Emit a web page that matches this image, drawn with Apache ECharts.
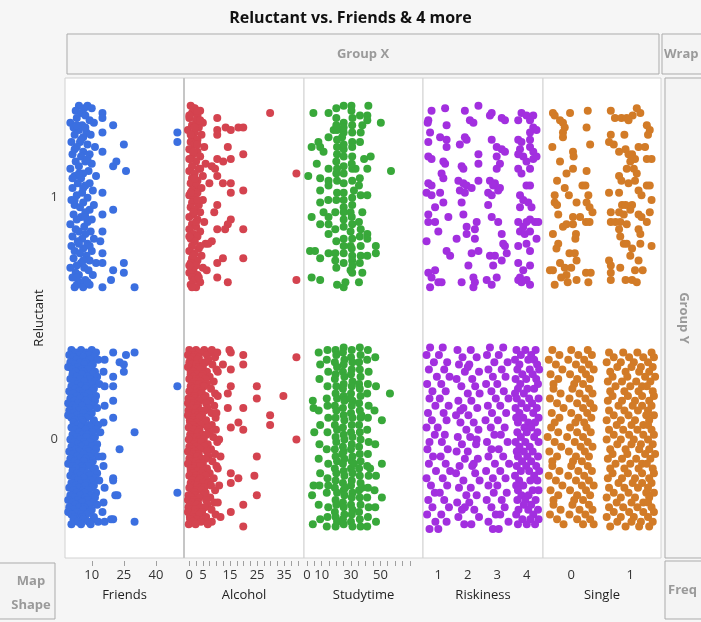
<!DOCTYPE html>
<html>
<head>
<meta charset="utf-8">
<title>Reluctant vs. Friends & 4 more</title>
<script src="https://cdn.jsdelivr.net/npm/echarts@6/dist/echarts.min.js"></script>
<style>
  html, body { margin: 0; padding: 0; background: #f6f6f6; }
  #chart { width: 701px; height: 622px; }
</style>
</head>
<body>
<div id="chart"></div>
<script>
// each point: [x value, jitter around the Reluctant level in hundredths]
const friendsR1 = [
  [4,38],[6.5,37],[2.5,36],[8,38],[5,35],[10,37],[3,33],[7,34],[0,31],[9,32],[5.5,30],[1.5,29],[11,31],[4,28],[7.5,27],
  [2,26],[6,25],[9.5,26],[0.5,23],[4.5,23],[8,22],[3,21],[11.5,21],[6,19],[1,18],[9,18],[5,17],[2.5,15],[7,15],[10,14],
  [4,13],[0,12],[8.5,11],[6,10],[2,9],[12,9],[5,8],[3.5,6],[9,6],[7,5],[1,4],[10.5,3],[5.5,2],[3,1],[8,0],
  [0.5,-1],[6,-2],[2,-3],[11,-3],[4.5,-4],[9,-5],[7,-6],[1.5,-7],[5,-8],[3,-9],[10,-9],[8,-10],[0,-11],[6.5,-12],
  [2.5,-13],[4,-14],[9.5,-14],[7,-15],[1,-16],[5.5,-17],[11,-17],[3.5,-18],[8,-19],[0.5,-20],[6,-21],[2,-22],[10,-22],
  [4.5,-23],[7.5,-24],[1.5,-25],[9,-26],[5,-27],[3,-28],[12,-27],[0,-29],[6.5,-29],[8.5,-30],[2.5,-31],[4,-32],[10.5,-32],
  [1,-33],[7,-34],[5.5,-35],[3,-36],[9,-36],[6,-37],[2,-37],
  [3,30],[7,29],[2,20],[8,16],[4,10],[6,4],[2,-1],[7,-8],[4,-19],[6,-26],[3,-33],[8,-35],[5,24],[1,8],[9,-20],
  [15,35],[15,33],[20,30],[15,27],[25,22],[50,27],[50,23],[15,19],[20,13],[21.5,15],[26,11],[15,2],[20,-5],[15,-7],
  [15,-14],[14,-18],[15,-23],[15,-27],[25,-27],[20,-30],[25,-31],[19,-34],[15,-37],[30,-37]
];
const friendsR0 = [
  [0.5,37],[5,37],[10,37],[2.5,36],[7.5,36],[12,36],[-0.5,35],[4,35],[8.5,35],[1.5,34],[6,34],[11,34],
  [3,33],[9,33],[13,33],[0,32],[4.5,32],[7,32],[2,31],[6.5,31],[10.5,31],[-1,30],[3.5,30],[9.5,30],
  [1,29],[5.5,29],[8,29],[2.5,28],[6,28],[11.5,28],[1,27],[5.5,27],[10.5,27],[3,26],[8,26],[12.5,26],
  [0,25],[4.5,25],[9,25],[2,24],[6.5,24],[11.5,24],[3.5,23],[9.5,23],[13.5,23],[0.5,22],[5,22],[7.5,22],
  [2.5,21],[7,21],[11,21],[-0.5,20],[4,20],[10,20],[1.5,19],[6,19],[8.5,19],[3,18],[6.5,18],[12,18],
  [0,17],[4.5,17],[9.5,17],[2,16],[7,16],[11.5,16],[-1,15],[3.5,15],[8,15],[1,14],[5.5,14],[10.5,14],
  [2.5,13],[8.5,13],[12.5,13],[-0.5,12],[4,12],[6.5,12],[1.5,11],[6,11],[10,11],[-1,10],[3,10],[9,10],
  [0.5,9],[5,9],[7.5,9],[2,8],[5.5,8],[11,8],[1.5,7],[6,7],[11,7],[3.5,6],[8.5,6],[13,6],
  [0.5,5],[5,5],[9.5,5],[2.5,4],[7,4],[12,4],[4,3],[10,3],[14,3],[1,2],[5.5,2],[8,2],
  [3,1],[7.5,1],[11.5,1],[0,0],[4.5,0],[10.5,0],[2,-1],[6.5,-1],[9,-1],[3.5,-2],[7,-2],[12.5,-2],
  [0.5,-3],[5,-3],[10,-3],[2.5,-4],[7.5,-4],[12,-4],[-0.5,-5],[4,-5],[8.5,-5],[1.5,-6],[6,-6],[11,-6],
  [3,-7],[9,-7],[13,-7],[0,-8],[4.5,-8],[7,-8],[2,-9],[6.5,-9],[10.5,-9],[-1,-10],[3.5,-10],[9.5,-10],
  [1,-11],[5.5,-11],[8,-11],[2.5,-12],[6,-12],[11.5,-12],[1,-13],[5.5,-13],[10.5,-13],[3,-14],[8,-14],[12.5,-14],
  [0,-15],[4.5,-15],[9,-15],[2,-16],[6.5,-16],[11.5,-16],[3.5,-17],[9.5,-17],[13.5,-17],[0.5,-18],[5,-18],[7.5,-18],
  [2.5,-19],[7,-19],[11,-19],[-0.5,-20],[4,-20],[10,-20],[1.5,-21],[6,-21],[8.5,-21],[3,-22],[6.5,-22],[12,-22],
  [0,-23],[4.5,-23],[9.5,-23],[2,-24],[7,-24],[11.5,-24],[-1,-25],[3.5,-25],[8,-25],[1,-26],[5.5,-26],[10.5,-26],
  [2.5,-27],[8.5,-27],[12.5,-27],[-0.5,-28],[4,-28],[6.5,-28],[1.5,-29],[6,-29],[10,-29],[-1,-30],[3,-30],[9,-30],
  [0.5,-31],[5,-31],[7.5,-31],[2,-32],[5.5,-32],[11,-32],[1.5,-33],[6,-33],[11,-33],[3.5,-34],[8.5,-34],[13,-34],
  [0.5,-35],[5,-35],[9.5,-35],
  [16,33],[15.5,28],[16,22],[16,14],[15.5,7],[15,-7],[15.5,-11],[16,-20],[15.5,-26],[15,-30],[16,-34],
  [20,36],[26,35],[30,36],[23,32],[25,31],[25,28],[20,26],[20,22],[50,22],[20,16],[20,9],[30,3],[23,-4],
  [20,-16],[20,-17],[21,-23],[22,-23],[50,-22],[20,-33],[19,-33],[30,-34]
];
const alcoholR1 = [
  [0.5,38],[2,37],[4,36],[1,35],[3,34],[0,33],[2.5,32],[5,31],[1,30],[3.5,29],[-0.5,28],[2,27],[4.5,26],[1,25],[3,24],
  [0.5,23],[2,22],[5.5,21],[0,20],[3,19],[1.5,18],[4,17],[0.5,16],[2.5,15],[6,14],[1,13],[3.5,12],[0,11],[2,10],[5,9],
  [1,8],[3,7],[0.5,6],[2.5,5],[4.5,4],[1,3],[3,2],[0,1],[2,0],[5,-1],[1,-2],[3.5,-3],[0.5,-4],[2,-5],[4,-6],[1.5,-7],
  [0,-8],[3,-9],[5.5,-10],[1,-11],[2.5,-12],[0,-13],[4,-14],[1.5,-15],[3,-16],[0.5,-17],[2,-18],[6,-19],[1,-20],
  [3.5,-21],[0,-22],[2,-23],[4.5,-24],[1,-25],[3,-26],[0.5,-27],[2.5,-28],[5,-29],[1.5,-30],[0,-31],[3,-32],[1,-33],
  [2,-34],[4,-35],[0.5,-36],[2.5,-37],
  [1.5,37],[3,36],[0,34],[4,32],[2,29],[0.5,26],[3,22],[1.5,19],[0,16],[4,12],[2,8],[0.5,2],[3,-1],[1.5,-6],
  [2.5,-10],[0,-16],[4,-20],[1.5,-24],[0,-28],[3.5,-33],[1,-37],
  [29.8,35],[10.3,33],[13.4,29],[15.3,28],[18.1,29],[19.9,29],[10.3,28],[10.3,26],[14.2,21],[19.9,18],[10.3,16],
  [12.5,15],[15.3,16],[8.3,13],[9.5,12],[39.5,10],[10.3,9],[7.4,6],[12.4,6],[15.3,6],[15.3,2],[19.9,3],[10.3,-3],
  [9.2,-6],[15.3,-9],[14.2,-11],[10.3,-13],[13.2,-13],[19.9,-13],[8.3,-18],[7,-19],[12.4,-25],[10.3,-27],[19.9,-25],
  [6.4,-30],[10.3,-33],[14.2,-35],[39.5,-34]
];
const alcoholR0 = [
  [0,37],[2.5,37],[5.5,37],[1,36],[4,36],[8,36],[-0.5,35],[2,35],[6.5,35],[1.5,34],[3.5,34],[9.5,34],
  [0.5,33],[3,33],[7,33],[0,32],[4.5,32],[6,32],[1,31],[2.5,31],[8.5,31],[-0.5,30],[3.5,30],[5,30],
  [2,29],[4,29],[10,29],[0.5,28],[1.5,28],[6.5,28],[0.5,27],[3,27],[5,27],[1.5,26],[4.5,26],[7.5,26],
  [0,25],[2.5,25],[6,25],[2,24],[4,24],[9,24],[1,23],[3.5,23],[6.5,23],[0.5,22],[5,22],[5.5,22],
  [1.5,21],[3,21],[8,21],[0,20],[4,20],[4.5,20],[2.5,19],[4.5,19],[9.5,19],[1,18],[2,18],[6,18],
  [-0.3,17],[2.2,17],[5.2,17],[0.7,16],[3.7,16],[7.7,16],[-0.5,15],[1.7,15],[6.2,15],[1.2,14],[3.2,14],[9.2,14],
  [0.2,13],[2.7,13],[6.7,13],[-0.3,12],[4.2,12],[5.7,12],[0.7,11],[2.2,11],[8.2,11],[-0.5,10],[3.2,10],[4.7,10],
  [1.7,9],[3.7,9],[9.7,9],[0.2,8],[1.2,8],[6.2,8],[0.3,7],[2.8,7],[5.8,7],[1.3,6],[4.3,6],[8.3,6],
  [-0.2,5],[2.3,5],[6.8,5],[1.8,4],[3.8,4],[9.8,4],[0.8,3],[3.3,3],[7.3,3],[0.3,2],[4.8,2],[6.3,2],
  [1.3,1],[2.8,1],[8.8,1],[-0.2,0],[3.8,0],[5.3,0],[2.3,-1],[4.3,-1],[10.3,-1],[0.8,-2],[1.8,-2],[6.8,-2],
  [0,-3],[2.5,-3],[5.5,-3],[1,-4],[4,-4],[8,-4],[-0.5,-5],[2,-5],[6.5,-5],[1.5,-6],[3.5,-6],[9.5,-6],
  [0.5,-7],[3,-7],[7,-7],[0,-8],[4.5,-8],[6,-8],[1,-9],[2.5,-9],[8.5,-9],[-0.5,-10],[3.5,-10],[5,-10],
  [2,-11],[4,-11],[10,-11],[0.5,-12],[1.5,-12],[6.5,-12],[0.5,-13],[3,-13],[5,-13],[1.5,-14],[4.5,-14],[7.5,-14],
  [0,-15],[2.5,-15],[6,-15],[2,-16],[4,-16],[9,-16],[1,-17],[3.5,-17],[6.5,-17],[0.5,-18],[5,-18],[7,-18],
  [1.5,-19],[3,-19],[8,-19],[0,-20],[4,-20],[5.5,-20],[2.5,-21],[4.5,-21],[9.5,-21],[1,-22],[2,-22],[6,-22],
  [-0.3,-23],[2.2,-23],[5.2,-23],[0.7,-24],[3.7,-24],[7.7,-24],[-0.5,-25],[1.7,-25],[6.2,-25],[1.2,-26],[3.2,-26],[9.2,-26],
  [0.2,-27],[2.7,-27],[6.7,-27],[-0.3,-28],[4.2,-28],[5.7,-28],[0.7,-29],[2.2,-29],[8.2,-29],[-0.5,-30],[3.2,-30],[4.7,-30],
  [1.7,-31],[3.7,-31],[9.7,-31],[0.2,-32],[1.2,-32],[6.2,-32],[0.3,-33],[2.8,-33],[5.8,-33],[1.3,-34],[4.3,-34],[8.3,-34],
  [-0.2,-35],[2.3,-35],[6.8,-35],
  [10.5,28],[10.5,18],[10,11],[11,0],[11.5,-7],[10.5,-12],[11,-19],[10.5,-26],[11.5,-32],
  [8.3,37],[10.3,36],[14.8,37],[15.3,36],[19.9,35],[19.9,31],[39.5,34],[12.4,31],[15.3,29],[15.3,22],[24.9,22],
  [14.2,19],[24.9,17],[34.7,18],[14.2,13],[19.9,13],[29.8,10],[29.8,6],[18.1,7],[15.3,5],[19.9,4],[39.5,0],
  [24.9,-7],[15.3,-14],[18.1,-16],[24,-15],[15.3,-18],[24.9,-23],[19.9,-27],[15.3,-30],[19.9,-36]
];
const studytimeR1 = [
  [4.4,35],[14.7,35],[20,37],[25,38],[30.3,38],[30.3,36],[41.8,38],[20,33],[25,31],[36.1,34],[41.1,34],[41.1,32],
  [50.3,31],[30.8,30],[37.7,30],[18.2,28],[20.5,28],[25,27],[23.9,25],[30.8,27],[36.6,27],[14.7,25],[20.5,24],
  [30.8,23],[36.1,23],[3.2,21],[7.8,23],[11.3,19],[9,21],[20.5,21],[25,20],[30.8,21],[20.5,18],[25,17],[30.8,17],
  [38.9,16],[43.4,17],[6.7,14],[14.7,12],[20.5,12],[25,10],[30.8,12],[33.1,12],[41.1,12],[57.2,11],[0.9,9],[9,8],
  [14.7,7],[14.7,5],[20.5,7],[25,6],[30.8,7],[35.4,5],[32,3],[36.6,1],[41.1,1],[9,3],[20.5,2],[25,2],[25,-1],
  [30.8,0],[25,-4],[30.8,-3],[9,-2],[11.3,-6],[3.2,-8],[14.7,-8],[19.3,-6],[25,-6],[29.7,-6],[37.7,-6],[9,-11],
  [14.7,-11],[14.7,-15],[19.3,-13],[25,-12],[30.8,-11],[35.4,-10],[36.6,-13],[29.7,-14],[41.1,-15],[41.1,-17],
  [25,-17],[30.8,-17],[2.1,-22],[5.5,-22],[9,-25],[14.7,-23],[19.3,-23],[19.3,-26],[25,-23],[29.7,-20],[30.8,-24],
  [36.6,-20],[36.6,-24],[41.1,-24],[46.9,-20],[46.9,-23],[30.8,-26],[29.7,-30],[30.8,-31],[37.7,-31],[3.2,-33],
  [9,-34],[20.5,-36],[25,-37],[26.2,-35],[35.4,-35],
  [20,30],[25,29],[20,10],[25,13],[30.5,14],[20,-1],[30.5,-8],[25,-9],[20,-18],[25,-20],[30.5,-21],[36,-16],
  [20,-29],[25,-27],[31,-28],[36,8],[20,15],[25,22],[31,33],[14.5,-1],[36,-27]
];
const studytimeR0 = [
  [4,16],[4.5,13],[5,3],[3.5,-23],[4,-35],[4.5,-19],
  [8,36],[9,31],[8.5,25],[8,12],[9,6],[8.5,-2],[8,-8],[9,-14],[8.5,-19],[8,-27],[9,-33],
  [14,37],[13.5,33],[14.5,28],[14,22],[13.5,17],[14.5,9],[14,3],[13.5,-4],[14.5,-10],[14,-16],[13.5,-22],
  [14.5,-28],[14,-32],[13.5,-36],[14,14],[14.5,-19],
  [19.5,37],[20,35],[19,32],[20.5,30],[19.5,27],[19,25],[20,22],[19.5,19],[20.5,17],[19,14],[20,12],[19.5,9],
  [19,6],[20.5,4],[19.5,1],[20,-1],[19,-4],[19.5,-7],[20.5,-9],[19,-12],[20,-14],[19.5,-17],[19,-20],[20.5,-22],
  [19.5,-25],[20,-27],[19,-30],[19.5,-32],[20.5,-34],[19.5,-36],
  [25,38],[24.5,36],[25.5,33],[25,31],[24.5,28],[25.5,26],[25,23],[24.5,21],[25,18],[25.5,16],[24.5,13],[25,10],
  [25.5,8],[24.5,5],[25,2],[25.5,0],[24.5,-3],[25,-5],[25.5,-8],[24.5,-10],[25,-13],[25.5,-15],[24.5,-18],[25,-21],
  [25.5,-23],[24.5,-26],[25,-28],[25.5,-31],[24.5,-33],[25,-35],[26,-20],[24,-6],
  [30.5,37],[30,34],[31,32],[30.5,29],[30,27],[31,24],[30.5,22],[30,19],[31,16],[30.5,14],[30,11],[31,9],
  [30.5,6],[30,3],[31,1],[30.5,-2],[30,-4],[31,-7],[30.5,-9],[30,-12],[31,-14],[30.5,-17],[30,-19],[31,-22],
  [30.5,-24],[30,-27],[31,-29],[30.5,-31],[30,-34],[31,-36],[32,-10],[29.5,17],
  [36,38],[36.5,35],[35.5,32],[36,29],[36.5,26],[35.5,23],[36,21],[36.5,18],[35.5,15],[36,12],[36.5,9],[35.5,6],
  [36,3],[36.5,0],[35.5,-3],[36,-6],[36.5,-9],[35.5,-12],[36,-15],[36.5,-18],[35.5,-21],[36,-24],[36.5,-27],
  [35.5,-30],[36,-33],[36.5,-36],[37.5,-20],[37,10],
  [41.5,37],[41,33],[42,28],[41.5,23],[41,19],[42,14],[41.5,9],[41,4],[42,-1],[41.5,-6],[41,-11],[42,-15],
  [41.5,-20],[41,-24],[42,-28],[41.5,-32],[41,-36],[43,-12],
  [46.5,34],[47,22],[46,12],[46.5,-2],[47,-15],[46,-21],[46.5,-28],[47,-34],
  [56.5,19],[51,8],[51,-10],[51,-24]
];
const riskinessR1 = [
  [0.77,36],[1.23,37],[0.66,32],[0.64,31],[1.28,30],[0.72,27],[0.66,23],[1.06,25],[1.28,24],[1.28,21],[0.66,17],
  [0.77,16],[1.17,15],[1.23,14],[1.11,10],[1.17,8],[0.66,6],[0.77,5],[0.6,2],[0.77,1],[1.06,2],[0.89,-4],[1.17,-2],
  [0.66,-7],[0.66,-10],[0.89,-10],[1,-14],[1.34,-8],[0.6,-18],[1.28,-22],[1.4,-24],[0.66,-31],[0.77,-33],[0.89,-30],
  [1,-35],[1.11,-35],[0.72,-37],
  [1.9,36],[2.36,38],[2.07,32],[2.19,31],[1.9,25],[1.96,24],[1.73,22],[2.36,18],[1.79,13],[1.85,12],[2.36,14],
  [1.68,7],[1.85,6],[1.96,5],[1.73,3],[1.9,2],[2.13,4],[2.36,7],[1.79,-2],[1.85,-7],[2.3,-10],[1.96,-12],[2.24,-13],
  [1.96,-15],[2.24,-17],[1.62,-17],[2.13,-23],[2.36,-22],[2.02,-28],[2.19,-33],[2.24,-35],[1.79,-35],[2.19,-37],
  [2.81,35],[2.75,34],[3.15,33],[3.26,32],[2.81,24],[2.98,21],[3.15,20],[3.26,19],[2.98,17],[3.09,14],[2.98,12],
  [2.75,7],[2.92,6],[2.86,5],[3.03,3],[2.69,2],[2.81,1],[2.69,-3],[3.09,4],[2.81,-8],[3.03,-10],[3.15,-15],[3.2,-19],
  [3.26,-20],[2.75,-24],[2.92,-24],[3.32,-23],[2.86,-28],[3.15,-26],[2.64,-34],[2.81,-36],[2.98,-33],
  [3.71,32],[3.82,35],[3.99,34],[4.22,34],[4.11,32],[4.22,29],[4.33,28],[4.11,27],[3.71,24],[3.82,23],[4.11,24],
  [3.77,20],[4.11,21],[4.22,19],[3.71,18],[3.88,17],[3.99,15],[4.22,16],[4.33,17],[4.11,12],[3.71,12],[3.82,10],
  [3.99,5],[4.11,5],[3.77,1],[3.88,-1],[4.05,-2],[4.16,-4],[3.77,-4],[3.71,-10],[3.88,-12],[3.99,-10],[4.11,-9],
  [4.28,-10],[4.39,-10],[3.77,-14],[3.93,-15],[4.11,-14],[4.33,-17],[3.71,-20],[3.99,-19],[4.11,-22],[3.71,-27],
  [3.88,-30],[4.11,-28],[3.77,-33],[3.99,-34],[3.82,-35],[4.11,-36],[3.71,-34]
];
const riskinessR0 = [
  [0.72,38],[1.15,38],[0.6,35],[1.02,35],[0.85,32],[1.3,32],[0.68,29],[1.2,29],[0.95,26],[1.38,26],[0.62,23],[1.1,23],
  [0.8,20],[1.25,20],[0.7,17],[1.05,17],[0.9,14],[1.35,14],[0.65,11],[1.18,11],[0.78,8],[1.28,8],[0.6,5],[0.98,5],
  [0.88,2],[1.22,2],[0.7,-1],[1.12,-1],[0.63,-4],[1.32,-4],[0.82,-7],[1.08,-7],[0.68,-10],[1.25,-10],[0.92,-13],[1.4,-13],
  [0.6,-16],[1.15,-16],[0.75,-19],[1.3,-19],[0.88,-22],[1.05,-22],[0.66,-25],[1.2,-25],[0.8,-28],[1.36,-28],
  [0.62,-31],[1.1,-31],[0.9,-34],[1.28,-34],[0.7,-37],[1,-37],
  [1.65,37],[2.1,37],[1.82,34],[2.3,34],[1.7,31],[2.05,31],[1.9,28],[2.38,28],[1.62,25],[2.15,25],[1.78,22],[2.25,22],
  [2,19],[2.4,19],[1.68,16],[2.12,16],[1.85,13],[2.32,13],[1.6,10],[2.02,10],[1.75,7],[2.2,7],[1.95,4],[2.36,4],
  [1.66,1],[2.08,1],[1.8,-2],[2.28,-2],[1.62,-5],[2,-5],[1.9,-8],[2.34,-8],[1.72,-11],[2.15,-11],[1.6,-14],[2.25,-14],
  [1.85,-17],[2.4,-17],[1.7,-20],[2.1,-20],[1.95,-23],[2.3,-23],[1.64,-26],[2.05,-26],[1.8,-29],[2.22,-29],
  [1.68,-32],[2.38,-32],[1.88,-35],[2.12,-35],[2,30],[1.75,12],[2.2,-10],[1.9,-28],[2.3,0],
  [2.75,38],[3.2,38],[2.65,35],[3.05,35],[2.9,32],[3.35,32],[2.7,29],[3.15,29],[2.85,26],[3.28,26],[2.62,23],[3,23],
  [2.8,20],[3.22,20],[2.95,17],[3.38,17],[2.68,14],[3.1,14],[2.82,11],[3.3,11],[2.6,8],[3.02,8],[2.78,5],[3.25,5],
  [2.9,2],[3.12,2],[2.65,-1],[3.35,-1],[2.8,-4],[3.05,-4],[2.7,-7],[3.2,-7],[2.92,-10],[3.4,-10],[2.62,-13],[3.1,-13],
  [2.85,-16],[3.28,-16],[2.7,-19],[3,-19],[2.88,-22],[3.32,-22],[2.64,-25],[3.15,-25],[2.8,-28],[3.25,-28],
  [2.95,-31],[3.1,-31],[2.7,-34],[3.38,-34],[2.85,-37],[3.05,-37],
  [3.65,37],[3.95,37],[4.3,37],[3.8,35],[4.15,35],[3.6,33],[4.05,33],[4.25,33],[3.75,31],[4.35,31],
  [3.68,29],[4.1,29],[4.42,29],[3.85,27],[4.2,27],[3.62,25],[3.98,25],[4.32,25],[3.78,23],[4.38,23],
  [3.7,21],[4.02,21],[4.25,21],[3.9,19],[3.6,19],[3.66,17],[4.08,17],[4.4,17],[3.82,15],[4.18,15],
  [3.62,13],[4,13],[4.34,13],[3.75,11],[4.22,11],[3.88,9],[3.64,9],[4.4,9],[3.7,7],[4.05,7],[4.28,7],
  [3.92,5],[4.15,5],[3.68,3],[4,3],[4.36,3],[3.8,1],[4.25,1],[3.62,-1],[3.95,-1],[4.4,-1],[3.75,-3],[4.1,-3],
  [3.9,-5],[4.2,-5],[3.66,-5],[3.7,-7],[4.02,-7],[4.38,-7],[3.84,-9],[4.15,-9],[3.66,-11],[3.98,-11],[4.32,-11],
  [3.8,-13],[4.08,-13],[4.42,-13],[3.6,-15],[4.25,-15],[3.74,-17],[4.12,-17],[4.36,-17],[3.88,-19],[3.64,-19],
  [3.7,-21],[4.2,-21],[4.4,-21],[3.82,-23],[4.06,-23],[3.68,-25],[3.95,-25],[4.3,-25],[3.9,-27],[4.15,-27],
  [3.72,-29],[4.05,-29],[4.38,-29],[3.64,-31],[4.22,-31],[3.85,-33],[4.12,-33],[4.4,-33],[3.7,-35],[4,-35],[4.28,-35]
];
const singleR1 = [
  [-0.31,35],[-0.28,34],[-0.19,32],[-0.14,31],[-0.11,29],[-0.14,27],[-0.14,25],[-0.02,35],[0.28,36],[0.26,29],
  [0.32,22],[-0.32,21],[0.03,19],[0.04,17],[-0.19,15],[-0.08,10],[0.03,12],[0.26,11],[-0.24,7],[-0.11,4],[-0.04,1],
  [0.19,5],[0.24,5],[-0.28,1],[-0.28,-2],[-0.24,-3],[0.09,-2],[0.29,1],[0.26,-2],[0.31,-4],[0.36,-6],[-0.22,-7],
  [0.03,-8],[0.15,-8],[-0.14,-12],[-0.08,-11],[0.03,-11],[0.25,-10],[0.31,-10],[-0.31,-15],[0.08,-15],[0.07,-17],
  [-0.22,-19],[-0.25,-21],[-0.03,-23],[0.06,-23],[0.09,-26],[-0.19,-27],[-0.31,-30],[-0.36,-30],[-0.11,-29],[0,-29],
  [-0.08,-32],[-0.17,-33],[-0.06,-35],[-0.28,-36],[0.09,-34],[0.25,-31],[0.33,-31],[0.29,-35],
  [0.67,36],[0.74,33],[0.85,33],[0.94,33],[1.04,34],[1.11,37],[1.17,35],[1.28,30],[1.33,28],[0.67,26],[0.64,23],
  [0.72,22],[0.81,19],[0.92,20],[0.97,18],[1.03,18],[1.08,16],[1,15],[1.14,21],[1.25,21],[1.28,16],[1.36,16],
  [0.94,12],[1.06,12],[1.11,10],[0.81,9],[0.85,7],[0.97,6],[1.08,7],[0.64,2],[0.81,2],[1.14,3],[1.19,1],[1.28,5],
  [1.33,5],[1.36,-1],[0.86,-3],[0.92,-3],[1.03,-3],[1,-5],[0.67,-6],[0.81,-6],[0.89,-7],[0.67,-10],[0.75,-10],
  [0.83,-10],[0.94,-11],[0.81,-13],[1.14,-7],[1.19,-8],[1.28,-10],[1.33,-6],[1.14,-13],[1.17,-15],[0.83,-16],
  [0.89,-19],[0.94,-19],[1.03,-21],[1.17,-19],[1.36,-20],[0.64,-26],[0.67,-28],[0.67,-31],[0.67,-34],[0.83,-29],
  [0.92,-34],[1.03,-34],[1.11,-35],[1.08,-30],[1.21,-30],[1.14,-26],[1,-24],[0.97,32],[1.3,26],[0.9,26]
];
const singleR0 = [
  [-0.32,37],[0,37],[0.28,37],[-0.2,35],[0.12,35],[0.35,35],[-0.38,33],[-0.05,33],[0.22,33],[-0.26,31],[0.08,31],[0.3,31],
  [-0.15,29],[0.18,29],[0.38,29],[-0.35,27],[-0.02,27],[0.25,27],[-0.22,25],[0.1,25],[0.32,25],[-0.3,23],[0.05,23],[0.2,23],
  [-0.3,21],[0.02,21],[0.3,21],[-0.18,19],[0.14,19],[0.36,19],[-0.36,17],[-0.03,17],[0.24,17],[-0.24,15],[0.1,15],[0.32,15],
  [-0.13,13],[0.2,13],[0.38,13],[-0.33,11],[0,11],[0.27,11],[-0.2,9],[0.12,9],[0.34,9],[-0.28,7],[0.07,7],[0.22,7],
  [-0.34,5],[-0.02,5],[0.26,5],[-0.22,3],[0.1,3],[0.33,3],[-0.4,1],[-0.07,1],[0.2,1],[-0.28,-1],[0.06,-1],[0.28,-1],
  [-0.17,-3],[0.16,-3],[0.36,-3],[-0.37,-5],[-0.04,-5],[0.23,-5],[-0.24,-7],[0.08,-7],[0.3,-7],[-0.32,-9],[0.03,-9],[0.18,-9],
  [-0.32,-11],[0,-11],[0.28,-11],[-0.2,-13],[0.12,-13],[0.35,-13],[-0.38,-15],[-0.05,-15],[0.22,-15],[-0.26,-17],[0.08,-17],[0.3,-17],
  [-0.15,-19],[0.18,-19],[0.38,-19],[-0.35,-21],[-0.02,-21],[0.25,-21],[-0.22,-23],[0.1,-23],[0.32,-23],[-0.3,-25],[0.05,-25],[0.2,-25],
  [-0.3,-27],[0.02,-27],[0.3,-27],[-0.18,-29],[0.14,-29],[0.36,-29],[-0.36,-31],[-0.03,-31],[0.24,-31],[-0.24,-33],[0.1,-33],[0.32,-33],
  [-0.13,-35],[0.2,-35],[0.38,-35],
  [0.64,36],[0.88,36],[1.12,36],[1.36,36],[0.72,34],[0.98,34],[1.22,34],[1.4,34],[0.6,32],[0.84,32],[1.06,32],[1.3,32],
  [0.78,30],[1.02,30],[1.18,30],[1.38,30],[0.66,28],[0.92,28],[1.15,28],[1.32,28],[0.7,26],[0.95,26],[1.25,26],[1.42,26],
  [0.62,24],[0.86,24],[1.1,24],[1.34,24],[0.75,22],[1,22],[1.2,22],[1.28,22],[0.66,20],[0.9,20],[1.14,20],[1.38,20],
  [0.7,18],[0.96,18],[1.2,18],[1.4,18],[0.62,16],[0.86,16],[1.08,16],[1.32,16],[0.8,14],[1.04,14],[1.2,14],[1.36,14],
  [0.64,12],[0.9,12],[1.13,12],[1.3,12],[0.72,10],[0.97,10],[1.27,10],[1.4,10],[0.6,8],[0.84,8],[1.08,8],[1.32,8],
  [0.77,6],[1.02,6],[1.22,6],[1.3,6],[0.64,4],[0.88,4],[1.12,4],[1.36,4],[0.72,2],[0.98,2],[1.22,2],[1.4,2],
  [0.6,0],[0.84,0],[1.06,0],[1.3,0],[0.78,-2],[1.02,-2],[1.18,-2],[1.38,-2],[0.66,-4],[0.92,-4],[1.15,-4],[1.32,-4],
  [0.7,-6],[0.95,-6],[1.25,-6],[1.42,-6],[0.62,-8],[0.86,-8],[1.1,-8],[1.34,-8],[0.75,-10],[1,-10],[1.2,-10],[1.28,-10],
  [0.66,-12],[0.9,-12],[1.14,-12],[1.38,-12],[0.7,-14],[0.96,-14],[1.2,-14],[1.4,-14],[0.62,-16],[0.86,-16],[1.08,-16],[1.32,-16],
  [0.8,-18],[1.04,-18],[1.2,-18],[1.36,-18],[0.64,-20],[0.9,-20],[1.13,-20],[1.3,-20],[0.72,-22],[0.97,-22],[1.27,-22],[1.4,-22],
  [0.6,-24],[0.84,-24],[1.08,-24],[1.32,-24],[0.77,-26],[1.02,-26],[1.22,-26],[1.3,-26],[0.64,-28],[0.88,-28],[1.12,-28],[1.36,-28],
  [0.72,-30],[0.98,-30],[1.22,-30],[1.4,-30],[0.6,-32],[0.84,-32],[1.06,-32],[1.3,-32],[0.78,-34],[1.02,-34],[1.18,-34],[1.38,-34],
  [0.66,-36],[0.92,-36],[1.15,-36],[1.32,-36]
];

const xNames = ['Friends', 'Alcohol', 'Studytime', 'Riskiness', 'Single'];
const xLabelValues = [[10, 25, 40], [0, 5, 15, 25, 35], [0, 10, 30, 50], [1, 2, 3, 4], [0, 1]];
const xTickValues = [
  [10, 25, 40],
  [0, 2.5, 5, 7.5, 10, 12.5, 15, 17.5, 20, 22.5, 25, 27.5, 30, 32.5, 35, 37.5, 40],
  [0, 5, 10, 15, 20, 25, 30, 35, 40, 45, 50, 55, 60, 65, 70],
  [],
  []
];
const reluctantLevels = [0, 1];

const panelData = [
  [friendsR1, friendsR0], [alcoholR1, alcoholR0], [studytimeR1, studytimeR0],
  [riskinessR1, riskinessR0], [singleR1, singleR0]
];
const xRange = [[-2.5, 53.1], [-1.96, 42.3], [-2, 79], [0.48, 4.55], [-0.478, 1.52]];
const colors = ['#3b6fe0', '#d4434f', '#38a83a', '#a22fdf', '#d27b27'];
const panelLeft = [65, 184, 304, 423, 543];
const panelRight = [184, 304, 423, 543, 661];
const font = '"Open Sans", "Noto Sans", sans-serif';

const toPoints = (level, arr) => arr.map(p => [p[0], level + p[1] / 100]);

const chart = echarts.init(document.getElementById('chart'));

const boxStyle = { fill: '#f4f4f4', stroke: '#ababab', lineWidth: 1 };
const boxText = (text, x, y, extra) => ({
  type: 'text', x, y,
  style: Object.assign({ text, fill: '#9a9a9a', font: 'bold 13px ' + font, align: 'center', verticalAlign: 'middle' }, extra || {})
});

chart.setOption({
  animation: false,
  backgroundColor: '#f6f6f6',
  title: {
    text: 'Reluctant vs. Friends & 4 more',
    left: 'center',
    top: 5,
    textStyle: { fontSize: 16, fontWeight: 'bold', color: '#111', fontFamily: font }
  },
  grid: panelLeft.map((l, i) => ({
    left: l, top: 78, width: panelRight[i] - l, height: 480,
    show: true, backgroundColor: '#ffffff', borderColor: '#d2d2d2', borderWidth: 1
  })),
  xAxis: xNames.map((name, i) => ({
    gridIndex: i,
    type: 'value',
    min: xRange[i][0],
    max: xRange[i][1],
    position: 'bottom',
    offset: 3,
    axisLine: { show: false, onZero: false },
    splitLine: { show: false },
    axisTick: {
      show: xTickValues[i].length > 0,
      customValues: xTickValues[i],
      length: 5,
      lineStyle: { color: '#a0a0a0' }
    },
    axisLabel: { customValues: xLabelValues[i], margin: 8, color: '#333', fontSize: 13, fontFamily: font },
    name,
    nameLocation: 'middle',
    nameGap: 28,
    nameTextStyle: { color: '#222', fontSize: 13, fontFamily: font }
  })),
  yAxis: xNames.map((_, i) => ({
    gridIndex: i,
    type: 'value',
    min: -0.49,
    max: 1.495,
    show: i === 0,
    axisLine: { show: false, onZero: false },
    axisTick: { show: false },
    splitLine: { show: false },
    axisLabel: { customValues: reluctantLevels, margin: 7, color: '#444', fontSize: 13, fontFamily: font },
    name: 'Reluctant',
    nameLocation: 'middle',
    nameGap: 19,
    nameTextStyle: { color: '#222', fontSize: 13, fontFamily: font }
  })),
  series: panelData.map((d, i) => ({
    type: 'scatter',
    xAxisIndex: i,
    yAxisIndex: i,
    symbol: 'circle',
    symbolSize: 8,
    silent: true,
    itemStyle: { color: colors[i], opacity: 1 },
    data: toPoints(1, d[0]).concat(toPoints(0, d[1]))
  })),
  graphic: [
    { type: 'rect', shape: { x: 67, y: 34, width: 592, height: 40 }, style: boxStyle },
    boxText('Group X', 363, 54),
    { type: 'rect', shape: { x: 662, y: 34, width: 48, height: 40 }, style: boxStyle },
    boxText('Wrap', 664, 54, { align: 'left' }),
    { type: 'rect', shape: { x: 665, y: 78, width: 48, height: 480 }, style: boxStyle },
    Object.assign(boxText('Group Y', 0, 0), { x: 684, y: 318, rotation: -Math.PI / 2 }),
    { type: 'rect', shape: { x: 665, y: 561, width: 48, height: 58 }, style: boxStyle },
    boxText('Freq', 668, 590, { align: 'left' }),
    { type: 'rect', shape: { x: -1, y: 563, width: 56, height: 56 }, style: boxStyle },
    boxText('Map', 31, 581),
    boxText('Shape', 31, 605),
    { type: 'line', shape: { x1: 184, y1: 78, x2: 184, y2: 558 }, style: { stroke: '#c6c6c6', lineWidth: 2 } }
  ]
});
</script>
</body>
</html>
